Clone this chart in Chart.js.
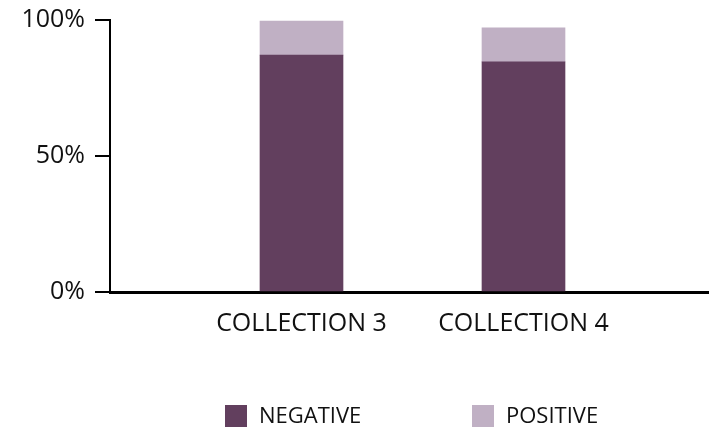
<!DOCTYPE html>
<html>
<head>
<meta charset="utf-8">
<script src="https://cdn.jsdelivr.net/npm/chart.js@4/dist/chart.umd.min.js"></script>
<style>
  html, body { margin: 0; padding: 0; background: #fff; }
  #wrap { width: 709px; height: 430px; position: relative; }
</style>
</head>
<body>
<div id="wrap"><canvas id="chart"></canvas></div>
<script>
// Data
const categories = ['COLLECTION 3', 'COLLECTION 4'];
const negative = [87.1, 84.6];
const positive = [12.5, 12.5];
const yTicks = [0, 50, 100];

const seriesNames = ['NEGATIVE', 'POSITIVE'];
const seriesColors = ['#623f5e', '#c0b0c4'];

const FONT = "'Open Sans', 'Noto Sans', sans-serif";

// Legend drawn under the axis labels
const bottomLegend = {
  id: 'bottomLegend',
  afterDraw(chart) {
    const ctx = chart.ctx;
    const itemX = [225, 472];
    const midY = 416;
    ctx.save();
    ctx.font = '22px ' + FONT;
    ctx.textBaseline = 'middle';
    ctx.textAlign = 'left';
    chart.data.datasets.forEach((ds, i) => {
      ctx.fillStyle = ds.backgroundColor;
      ctx.fillRect(itemX[i], midY - 11, 22, 22);
      ctx.fillStyle = '#111';
      ctx.fillText(ds.label, itemX[i] + 34, midY + 1);
    });
    ctx.restore();
  }
};

const toPoints = arr => arr.map((v, i) => ({ x: i, y: v }));

new Chart(document.getElementById('chart'), {
  type: 'bar',
  data: {
    datasets: [
      { label: seriesNames[0], data: toPoints(negative), backgroundColor: seriesColors[0], barThickness: 83 },
      { label: seriesNames[1], data: toPoints(positive), backgroundColor: seriesColors[1], barThickness: 83 }
    ]
  },
  options: {
    responsive: true,
    maintainAspectRatio: false,
    animation: false,
    layout: { padding: { top: 20, left: 0, right: 0, bottom: 0 } },
    plugins: {
      legend: { display: false },
      tooltip: { enabled: false }
    },
    scales: {
      x: {
        type: 'linear',
        stacked: true,
        offset: false,
        bounds: 'data',
        min: -0.8626,
        max: 1.8356,
        afterBuildTicks: scale => {
          scale.ticks = categories.map((c, i) => ({ value: i }));
        },
        afterFit: scale => {
          scale.height = 138;
          scale.paddingLeft = 0;
          scale.paddingRight = 0;
        },
        grid: { display: false, drawTicks: false, offset: false },
        border: { color: '#000', width: 3 },
        ticks: {
          color: '#111',
          padding: 17,
          font: { family: FONT, size: 25 },
          callback: v => categories[v]
        }
      },
      y: {
        stacked: true,
        min: 0,
        max: 100,
        afterBuildTicks: scale => {
          scale.ticks = yTicks.map(v => ({ value: v }));
        },
        afterFit: scale => {
          scale.width = 110;
          scale.paddingTop = 0;
          scale.paddingBottom = 0;
        },
        grid: { drawOnChartArea: false, drawTicks: true, tickLength: 15, color: '#000', lineWidth: 2 },
        border: { color: '#000', width: 2 },
        ticks: {
          color: '#111',
          padding: 10,
          font: { family: FONT, size: 25 },
          callback: v => v + '%'
        }
      }
    }
  },
  plugins: [bottomLegend]
});
</script>
</body>
</html>
